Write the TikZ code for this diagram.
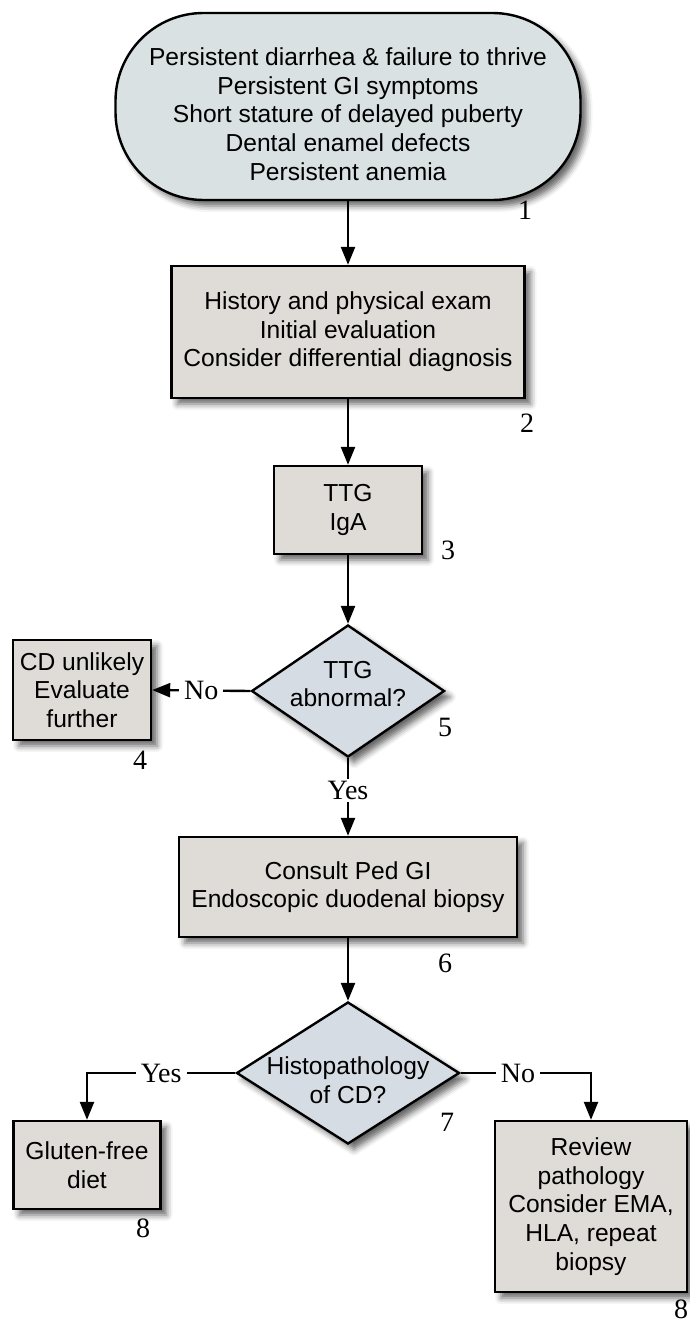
\documentclass[tikz,border=0pt]{standalone}
\usepackage{fontspec}
\setmainfont{Liberation Serif}
\setsansfont{Liberation Sans}
\usetikzlibrary{arrows.meta,shapes.geometric,shadows.blur}
\definecolor{termfill}{HTML}{D9E1E3}
\definecolor{boxfill}{HTML}{DFDBD7}
\definecolor{decfill}{HTML}{D6DCE4}

\begin{document}
\begin{tikzpicture}[x=0.5pt,y=-0.5pt]
    \tikzstyle{every node}+=[inner sep=0pt, align=center]
    \tikzstyle{txt}=[font=\sffamily\fontsize{12.3}{14.3}\selectfont]
    \tikzstyle{num}=[font=\rmfamily\fontsize{14}{16}\selectfont]
    \tikzstyle{lbl}=[num, fill=white, inner xsep=2.5pt, inner ysep=1pt]
    \tikzstyle{shd}=[blur shadow={shadow xshift=3pt, shadow yshift=-3pt, shadow blur radius=3pt, shadow opacity=60}]
    \tikzstyle{box}=[txt, draw=black, line width=1.2pt, fill=boxfill, shd]
    \tikzstyle{dec}=[diamond, draw=black, line width=1.2pt, fill=decfill, shd]
    \tikzstyle{arr}=[line width=1.2pt, -{Triangle[length=9pt,width=7pt]}]
    \useasboundingbox (0,0) rectangle (690,1322);
    \node [box, fill=termfill, rounded corners=44pt, minimum width=232.5pt, minimum height=93.5pt] (term) at (348,106.5)
        {\rule{0pt}{16.5pt}Persistent diarrhea \& failure to thrive\\Persistent GI symptoms\\Short stature of delayed puberty\\Dental enamel defects\\Persistent anemia};
    \node [num] (n1) at (525,210) {1};
    \node [box, minimum width=176.5pt, minimum height=66pt] (hist) at (348,332)
        {History and physical exam\\Initial evaluation\\Consider differential diagnosis};
    \node [num] (n2) at (527,423) {2};
    \node [box, minimum width=74pt, minimum height=44pt] (ttg) at (348,510) {TTG\\IgA};
    \node [num] (n3) at (448,550) {3};
    \node [dec, minimum width=96.5pt, minimum height=66pt] (abn) at (348,691) {};
    \node [txt] (abntxt) at (348,684) {TTG\\abnormal?};
    \node [num] (n5) at (445,727) {5};
    \node [box, minimum width=69pt, minimum height=50pt] (unlik) at (82,690) {CD unlikely\\Evaluate\\further};
    \node [num] (n4) at (140,760) {4};
    \node [box, minimum width=169pt, minimum height=50pt] (consult) at (348,887) {Consult Ped GI\\Endoscopic duodenal biopsy};
    \node [num] (n6) at (445,963) {6};
    \node [dec, minimum width=111.5pt, minimum height=71pt] (histo) at (348,1073) {};
    \node [txt] (histotxt) at (348,1080) {Histopathology\\of CD?};
    \node [num] (n7) at (447,1122) {7};
    \node [box, minimum width=73.5pt, minimum height=44pt] (gfd) at (87,1165) {Gluten-free\\diet};
    \node [num] (n8a) at (143,1228) {8};
    \node [box, minimum width=96pt, minimum height=85.5pt] (review) at (591,1206.5)
        {Review\\pathology\\Consider EMA,\\HLA, repeat\\biopsy};
    \node [num] (n8b) at (681,1309) {8};
    \draw [arr] (term) -- (hist);
    \draw [arr] (hist) -- (ttg);
    \draw [arr] (ttg) -- (abn);
    \draw [arr] (abn.west) -- node [lbl] (no1) {No} (unlik.east);
    \draw [arr] (abn.south) -- node [lbl, pos=0.42] (yes1) {Yes} (consult.north);
    \draw [arr] (consult) -- (histo);
    \draw [arr] (histo.west) -| node [lbl, pos=0.25] (yes2) {Yes} (gfd.north);
    \draw [arr] (histo.east) -| node [lbl, pos=0.22] (no2) {No} (review.north);
\end{tikzpicture}
\end{document}
